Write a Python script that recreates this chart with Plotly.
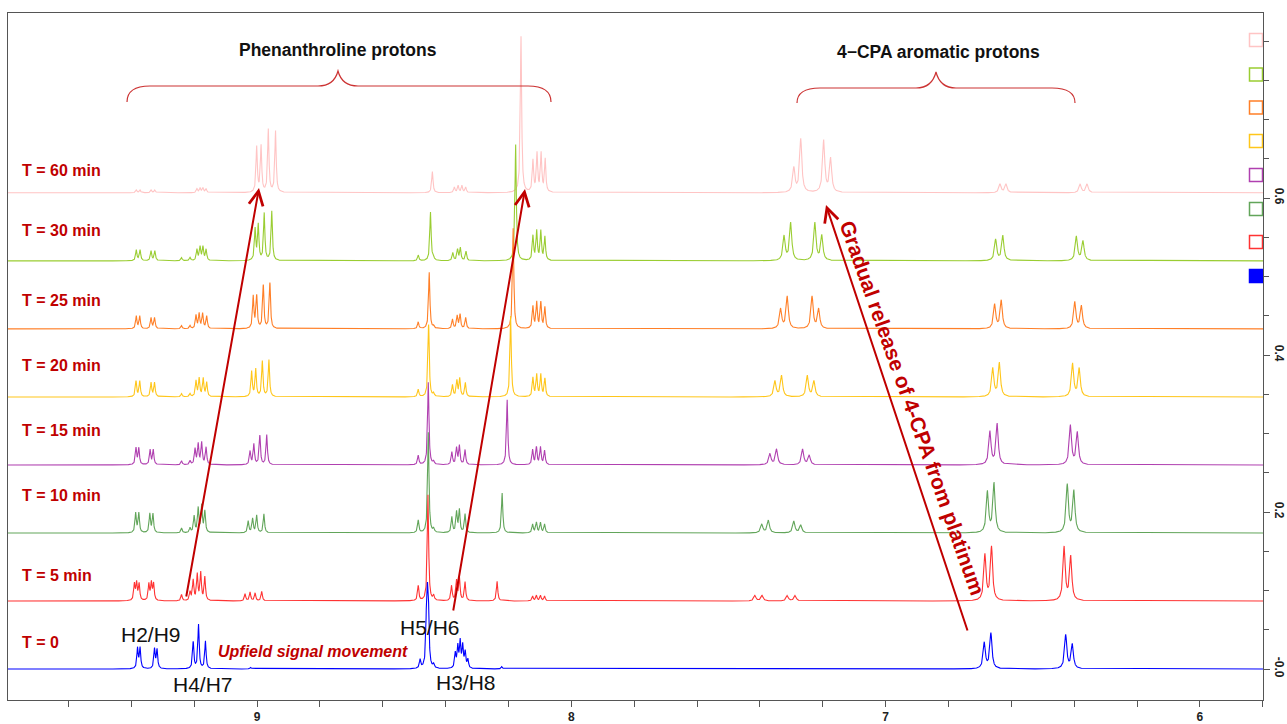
import numpy as np
import plotly.graph_objects as go

# ---------------- data ----------------
labels = ["T = 0", "T = 5 min", "T = 10 min", "T = 15 min",
          "T = 20 min", "T = 25 min", "T = 30 min", "T = 60 min"]
colors = ["#0000FF", "#FF3333", "#62A55A", "#B040B0",
          "#FFC61A", "#FF7F27", "#9ACD32", "#FFC4C4"]
offsets = [0.0, 0.0866, 0.1732, 0.2599, 0.3465, 0.4332, 0.5199, 0.6066]

# peak positions [ppm] and heights [rel] for each spectrum
t0_ppm = [9.380, 9.372, 9.326, 9.318,
          9.203, 9.186, 9.164, 9.020,
          8.481, 8.4605, 8.4575, 8.4545, 8.438,
          8.369, 8.361, 8.3535, 8.3455, 8.3376, 8.329, 8.221,
          6.686, 6.665, 6.427, 6.406]
t0_int = [0.026, 0.026, 0.025, 0.024,
          0.034, 0.056, 0.035, 0.002,
          0.011, 0.060, 0.062, 0.058, 0.005,
          0.019, 0.027, 0.033, 0.028, 0.020, 0.011, 0.003,
          0.033, 0.045, 0.043, 0.031]

t5_ppm = [9.390, 9.383, 9.375, 9.344, 9.336, 9.329,
          9.240, 9.213,
          9.203, 9.190, 9.179, 9.166,
          9.038, 9.022, 9.006, 8.985,
          8.487, 8.456, 8.438,
          8.381, 8.365, 8.356, 8.338,
          8.236,
          8.123, 8.111, 8.098, 8.085,
          7.416, 7.393, 7.313, 7.288,
          6.684, 6.663, 6.432, 6.411]
t5_int = [0.021, 0.022, 0.021, 0.021, 0.022, 0.021,
          0.008, 0.011,
          0.026, 0.033, 0.035, 0.030,
          0.009, 0.011, 0.010, 0.012,
          0.019, 0.135, 0.006,
          0.019, 0.025, 0.029, 0.024,
          0.025,
          0.006, 0.007, 0.007, 0.006,
          0.007, 0.007, 0.007, 0.007,
          0.058, 0.068, 0.068, 0.056]

t10_ppm = [9.386, 9.376, 9.341, 9.331,
           9.240, 9.213,
           9.200, 9.187, 9.176, 9.166,
           9.028, 9.014, 9.001, 8.978,
           8.487, 8.455, 8.438,
           8.380, 8.365, 8.356, 8.338,
           8.220,
           8.123, 8.111, 8.098, 8.085,
           7.394, 7.373, 7.292, 7.270,
           6.676, 6.655, 6.422, 6.401]
t10_int = [0.025, 0.025, 0.024, 0.024,
           0.006, 0.006,
           0.021, 0.031, 0.034, 0.027,
           0.015, 0.018, 0.022, 0.024,
           0.016, 0.128, 0.005,
           0.020, 0.026, 0.029, 0.024,
           0.051,
           0.011, 0.013, 0.013, 0.011,
           0.011, 0.016, 0.015, 0.010,
           0.052, 0.063, 0.061, 0.053]

t15_ppm = [9.385, 9.376, 9.340, 9.330,
           9.240, 9.213,
           9.197, 9.187, 9.176, 9.162,
           9.022, 9.010, 8.991, 8.969,
           8.487, 8.455, 8.438,
           8.380, 8.365, 8.356, 8.338,
           8.204,
           8.123, 8.111, 8.098, 8.085,
           7.368, 7.347, 7.264, 7.243,
           6.668, 6.645, 6.412, 6.390]
t15_int = [0.021, 0.021, 0.019, 0.019,
           0.005, 0.005,
           0.020, 0.026, 0.028, 0.022,
           0.017, 0.026, 0.037, 0.038,
           0.012, 0.105, 0.004,
           0.016, 0.021, 0.024, 0.019,
           0.083,
           0.019, 0.022, 0.022, 0.018,
           0.014, 0.020, 0.020, 0.012,
           0.042, 0.052, 0.050, 0.041]

t20_ppm = [9.385, 9.373, 9.337, 9.326,
           9.240, 9.213,
           9.194, 9.184, 9.171, 9.160,
           9.017, 9.004, 8.983, 8.962,
           8.487, 8.454, 8.438,
           8.378, 8.364, 8.355, 8.337,
           8.193,
           8.122, 8.110, 8.097, 8.084,
           7.352, 7.331, 7.249, 7.228,
           6.659, 6.638, 6.405, 6.384]
t20_int = [0.020, 0.020, 0.018, 0.018,
           0.004, 0.004,
           0.020, 0.023, 0.023, 0.018,
           0.032, 0.035, 0.045, 0.047,
           0.0095, 0.092, 0.004,
           0.015, 0.020, 0.023, 0.018,
           0.103,
           0.024, 0.028, 0.028, 0.023,
           0.020, 0.027, 0.027, 0.020,
           0.036, 0.043, 0.042, 0.036]

t25_ppm = [9.384, 9.373, 9.337, 9.326,
           9.240, 9.213,
           9.194, 9.184, 9.173, 9.160,
           9.012, 9.001, 8.980, 8.959,
           8.487, 8.452, 8.438,
           8.378, 8.363, 8.354, 8.336,
           8.185,
           8.122, 8.110, 8.097, 8.084,
           7.334, 7.313, 7.234, 7.213,
           6.653, 6.632, 6.398, 6.377]
t25_int = [0.016, 0.016, 0.014, 0.014,
           0.004, 0.004,
           0.017, 0.019, 0.019, 0.016,
           0.041, 0.041, 0.055, 0.058,
           0.0087, 0.072, 0.003,
           0.012, 0.016, 0.018, 0.014,
           0.128,
           0.028, 0.033, 0.033, 0.027,
           0.025, 0.041, 0.041, 0.025,
           0.031, 0.036, 0.034, 0.029]

t30_ppm = [9.384, 9.372, 9.337, 9.325,
           9.240, 9.213,
           9.191, 9.181, 9.172, 9.162,
           9.006, 8.996, 8.977, 8.953,
           8.487, 8.448, 8.438,
           8.377, 8.362, 8.353, 8.335,
           8.177,
           8.122, 8.110, 8.097, 8.084,
           7.323, 7.302, 7.225, 7.203,
           6.650, 6.627, 6.393, 6.372]
t30_int = [0.0136, 0.0136, 0.0125, 0.0125,
           0.004, 0.004,
           0.014, 0.017, 0.017, 0.014,
           0.040, 0.045, 0.060, 0.063,
           0.007, 0.062, 0.003,
           0.010, 0.014, 0.016, 0.012,
           0.148,
           0.031, 0.037, 0.037, 0.030,
           0.031, 0.048, 0.048, 0.032,
           0.027, 0.032, 0.031, 0.025]

t60_ppm = [9.384, 9.372, 9.337, 9.325,
           9.191, 9.181, 9.172, 9.162,
           9.001, 8.987, 8.964, 8.941,
           8.442,
           8.372, 8.360, 8.348, 8.336,
           8.160,
           8.122, 8.109, 8.096, 8.083,
           7.292, 7.270, 7.197, 7.175,
           6.636, 6.617, 6.381, 6.359]
t60_int = [0.0035, 0.0035, 0.0035, 0.0035,
           0.005, 0.006, 0.006, 0.005,
           0.058, 0.059, 0.080, 0.078,
           0.027,
           0.007, 0.009, 0.009, 0.007,
           0.199,
           0.040, 0.049, 0.049, 0.042,
           0.031, 0.068, 0.066, 0.043,
           0.011, 0.011, 0.011, 0.011]

peak_lists = [(t0_ppm, t0_int), (t5_ppm, t5_int), (t10_ppm, t10_int),
              (t15_ppm, t15_int), (t20_ppm, t20_int), (t25_ppm, t25_int),
              (t30_ppm, t30_int), (t60_ppm, t60_int)]

x_ticks = [9, 8, 7, 6]
y_ticks = [0.0, 0.2, 0.4, 0.6]
y_ticktext = ["-0.0", "0.2", "0.4", "0.6"]

# ---------------- helpers ----------------
ppm_grid = np.arange(5.78, 9.81, 0.0005)


def line_shape(pos, amp):
    y = np.zeros_like(ppm_grid)
    for p, a in zip(pos, amp):
        w = 0.0042 if p < 7.6 else 0.0025
        y += a / (1.0 + ((ppm_grid - p) / w) ** 2)
    return y


# pixel -> data mapping used only to place decorations
def X(px):
    return 9.8177 - px / 314.3


def Y(py):
    return (669.0 - py) / 785.0


FONT = "Arial, Liberation Sans, sans-serif"
DARKRED = "#C00000"
BRACE = "#CC3333"
AXC = "#555555"

fig = go.Figure()
for i in reversed(range(len(labels))):
    pos, amp = peak_lists[i]
    fig.add_trace(go.Scatter(
        x=ppm_grid, y=line_shape(pos, amp) + offsets[i], mode="lines",
        line=dict(color=colors[i], width=1.1), name=labels[i],
        hoverinfo="skip"))

annotations = []
# time labels
label_py = [642, 575, 495, 430, 365, 300, 230, 170]
for lab, py in zip(labels, label_py):
    annotations.append(dict(x=X(20), y=Y(py), xref="x", yref="y", text=lab,
                            showarrow=False, xanchor="left", yanchor="middle",
                            font=dict(family=FONT, size=16, color=DARKRED, weight="bold")))

# group headers
annotations.append(dict(x=X(338), y=Y(50), xref="x", yref="y", text="Phenanthroline protons",
                        showarrow=False, font=dict(family=FONT, size=17.5, color="#111", weight="bold")))
annotations.append(dict(x=X(938), y=Y(52), xref="x", yref="y", text="4\u2212CPA aromatic protons",
                        showarrow=False, font=dict(family=FONT, size=17.5, color="#111", weight="bold")))

# proton labels
for txt, (px, py) in [("H2/H9", (151, 634)), ("H4/H7", (203, 684)),
                      ("H5/H6", (430, 627)), ("H3/H8", (466, 682))]:
    annotations.append(dict(x=X(px), y=Y(py), xref="x", yref="y", text=txt, showarrow=False,
                            font=dict(family=FONT, size=21, color="#111")))

annotations.append(dict(x=X(313), y=Y(651), xref="x", yref="y",
                        text="<i>Upfield signal movement</i>", showarrow=False,
                        font=dict(family=FONT, size=16, color=DARKRED, weight="bold")))

annotations.append(dict(x=X(913), y=Y(408), xref="x", yref="y",
                        text="Gradual release of 4-CPA from platinum", showarrow=False,
                        textangle=70.5,
                        font=dict(family=FONT, size=21, color=DARKRED, weight="bold")))

# arrows
for (tx, ty), (hx, hy) in [((186, 598), (259, 188)), ((453, 612), (525, 189)),
                           ((968, 632), (826, 205))]:
    annotations.append(dict(x=X(hx), y=Y(hy), ax=X(tx), ay=Y(ty), xref="x", yref="y",
                            axref="x", ayref="y", text="", showarrow=True,
                            arrowhead=5, arrowsize=1.4, arrowwidth=2, arrowcolor=DARKRED))

# axis unit labels
annotations.append(dict(x=X(1243), y=Y(717), xref="x", yref="y", text="[ppm]", showarrow=False,
                        font=dict(family=FONT, size=12, color="#222", weight="bold")))
annotations.append(dict(x=X(1281), y=Y(22), xref="x", yref="y", text="[rel]", showarrow=False,
                        textangle=90,
                        font=dict(family=FONT, size=11, color="#222", weight="bold")))

shapes = []


def brace(x0, x1, xm, ytop, yend, ytip):
    pts = [
        f"M{X(x0)},{Y(yend)}",
        f"Q{X(x0)},{Y(ytop)} {X(x0 + 23)},{Y(ytop)}",
        f"L{X(xm - 20)},{Y(ytop)}",
        f"Q{X(xm - 4)},{Y(ytop)} {X(xm)},{Y(ytip)}",
        f"Q{X(xm + 4)},{Y(ytop)} {X(xm + 20)},{Y(ytop)}",
        f"L{X(x1 - 23)},{Y(ytop)}",
        f"Q{X(x1)},{Y(ytop)} {X(x1)},{Y(yend)}",
    ]
    return dict(type="path", xref="x", yref="y", path=" ".join(pts),
                line=dict(color=BRACE, width=1.2))


shapes.append(brace(127, 551, 338, 86, 102, 71))
shapes.append(brace(797, 1075, 936, 88, 103, 72))

# legend-like colour boxes at the right edge
box_py = [276, 242, 209, 175, 141, 107.5, 74.5, 40]
for i, cy in enumerate(box_py):
    shapes.append(dict(type="rect", xref="x", yref="y",
                       x0=X(1249.5), x1=X(1262.5), y0=Y(cy + 6.5), y1=Y(cy - 6.5),
                       line=dict(color=colors[i], width=1.5),
                       fillcolor=colors[i] if i == 0 else "rgba(0,0,0,0)"))

fig.update_layout(
    width=1287, height=724,
    margin=dict(l=8, r=24, t=13, b=24, autoexpand=False),
    plot_bgcolor="white", paper_bgcolor="white",
    showlegend=False,
    annotations=annotations, shapes=shapes,
    xaxis=dict(range=[X(8), X(1263)], tickvals=x_ticks, ticktext=[str(v) for v in x_ticks],
               automargin=False,
               ticks="outside", ticklen=6, tickcolor=AXC, showline=True, linecolor=AXC,
               linewidth=1, mirror=True, showgrid=False, zeroline=False,
               tickfont=dict(family=FONT, size=12, color="#222", weight="bold"),
               minor=dict(dtick=0.2, tick0=0, ticks="outside", ticklen=6, tickcolor=AXC,
                          showgrid=False)),
    yaxis=dict(range=[Y(700), Y(13)], side="right", tickvals=y_ticks, ticktext=y_ticktext,
               automargin=False,
               tickangle=90, ticks="outside", ticklen=6, tickcolor=AXC, showline=True,
               linecolor=AXC, linewidth=1, mirror=True, showgrid=False, zeroline=False,
               tickfont=dict(family=FONT, size=12, color="#222", weight="bold"),
               minor=dict(dtick=0.05, tick0=0, ticks="outside", ticklen=5, tickcolor=AXC,
                          showgrid=False)),
)

fig.write_html("out.html")
